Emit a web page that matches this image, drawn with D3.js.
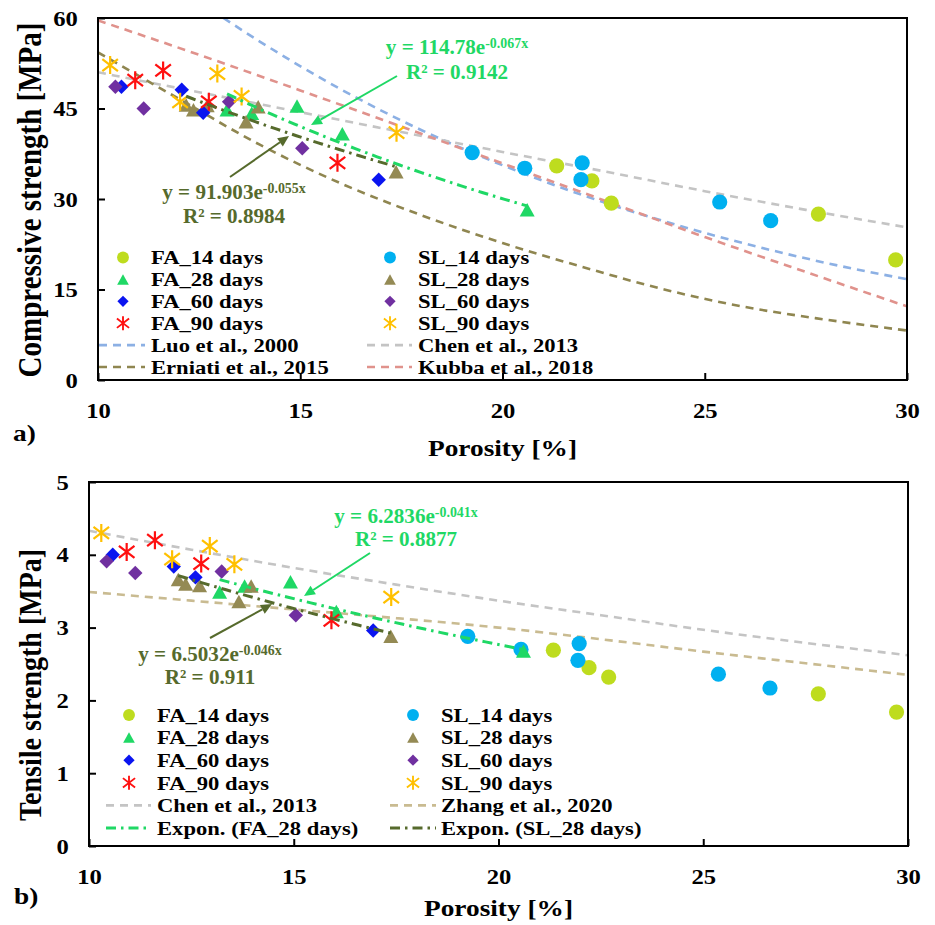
<!DOCTYPE html>
<html>
<head>
<meta charset="utf-8">
<script src="https://cdn.jsdelivr.net/npm/d3@7"></script>
<style>
  body { margin: 0; background: #fff; }
  svg { display: block; }
  text { font-family: "Liberation Serif", "Times New Roman", serif; font-weight: bold; }
</style>
</head>
<body>
<svg id="chart" width="935" height="925"></svg>
<script>
// ---------- axis ticks ----------
const porosityTicks = [10, 15, 20, 25, 30];
const compressiveTicks = [0, 15, 30, 45, 60];
const tensileTicks = [0, 1, 2, 3, 4, 5];

// ---------- measured points (porosity %, compressive MPa, tensile MPa) ----------
const fa14Porosity = [21.34, 22.21, 22.69, 27.81, 29.72];
const fa14Compressive = [35.5, 33.0, 29.3, 27.5, 19.9];
const fa14Tensile = [2.69, 2.45, 2.32, 2.09, 1.84];

const sl14Porosity = [19.25, 20.55, 21.97, 21.94, 25.37, 26.63];
const sl14Compressive = [37.7, 35.1, 36.0, 33.2, 29.5, 26.4];
const sl14Tensile = [2.88, 2.70, 2.78, 2.55, 2.36, 2.17];

const fa28Porosity = [13.19, 13.80, 14.92, 16.04, 20.61];
const fa28Compressive = [44.8, 44.2, 45.4, 40.8, 28.2];
const fa28Tensile = [3.49, 3.57, 3.63, 3.22, 2.68];

const sl28Porosity = [12.18, 12.36, 12.70, 13.66, 13.96, 17.37];
const sl28Compressive = [45.6, 44.8, 45.5, 42.8, 45.3, 34.5];
const sl28Tensile = [3.66, 3.60, 3.58, 3.36, 3.57, 2.88];

const fa60Porosity = [10.58, 12.07, 12.60, 16.94];
const fa60Compressive = [48.6, 48.1, 44.3, 33.2];
const fa60Tensile = [4.00, 3.84, 3.69, 2.96];

const sl60Porosity = [10.43, 11.13, 13.24, 15.05];
const sl60Compressive = [48.6, 45.0, 46.1, 38.4];
const sl60Tensile = [3.91, 3.75, 3.77, 3.17];

const fa90Porosity = [10.92, 11.61, 12.74, 15.92];
const fa90Compressive = [49.7, 51.3, 46.1, 36.0];
const fa90Tensile = [4.04, 4.20, 3.88, 3.10];

const sl90Porosity = [10.30, 12.03, 12.95, 13.55, 17.38];
const sl90Compressive = [52.2, 46.1, 50.8, 47.0, 41.0];
const sl90Tensile = [4.30, 3.94, 4.12, 3.87, 3.42];

// ---------- literature models ----------
const luoPorosity = [13.1, 14, 16, 18, 20, 22, 24, 26, 28, 30];
const luoCompressive = [60.0, 56.1, 48.2, 41.4, 35.6, 30.6, 26.3, 22.6, 19.4, 16.7];

const chenPorosity = [10, 12.5, 15, 17.5, 20, 22.5, 25, 27.5, 30];
const chenCompressive = [51.0, 47.7, 44.4, 41.1, 37.8, 34.6, 31.3, 28.2, 25.3];
const chenTensile = [4.33, 4.07, 3.82, 3.59, 3.37, 3.17, 2.97, 2.79, 2.62];

const erniatiPorosity = [10, 12, 14, 16, 18, 20, 22, 24, 26, 28, 30];
const erniatiCompressive = [54.3, 46.6, 39.0, 32.6, 27.3, 22.7, 18.7, 15.0, 12.1, 10.0, 8.2];

const kubbaPorosity = [10, 12.5, 15, 17.5, 20, 22.5, 25, 27.5, 30];
const kubbaCompressive = [59.6, 53.9, 48.0, 42.0, 35.9, 29.8, 23.7, 17.9, 12.2];

const zhangPorosity = [10, 12.5, 15, 17.5, 20, 22.5, 25, 27.5, 30];
const zhangTensile = [3.49, 3.37, 3.25, 3.13, 3.00, 2.84, 2.67, 2.51, 2.35];

// ---------- exponential trendlines: [coefficient, exponent, R²] ----------
const fitCompFA28 = [114.78, 0.067, 0.9142];
const fitCompSL28 = [91.903, 0.055, 0.8984];
const fitTensFA28 = [6.2836, 0.041, 0.8877];
const fitTensSL28 = [6.5032, 0.046, 0.911];

// ---------- legend labels ----------
const legendTopLeft = ["FA_14 days", "FA_28 days", "FA_60 days", "FA_90 days", "Luo et al., 2000", "Erniati et al., 2015"];
const legendTopRight = ["SL_14 days", "SL_28 days", "SL_60 days", "SL_90 days", "Chen et al., 2013", "Kubba et al., 2018"];
const legendBotLeft = ["FA_14 days", "FA_28 days", "FA_60 days", "FA_90 days", "Chen et al., 2013", "Expon. (FA_28 days)"];
const legendBotRight = ["SL_14 days", "SL_28 days", "SL_60 days", "SL_90 days", "Zhang et al., 2020", "Expon. (SL_28 days)"];

// ---------- styles ----------
const C = {
  fa14: "#bedc1e", sl14: "#00b0f0", fa28: "#1fd865", sl28: "#948a54",
  fa60: "#0a14f0", sl60: "#7030a0", fa90: "#ff1010", sl90: "#ffc000",
  luo: "#8cb0e4", chen: "#c4c4c4", erniati: "#8f8650", kubba: "#e0928c",
  zhang: "#c9bb91", fitFA: "#1fd865", fitSL: "#566a2c"
};
const DASH = "8,6";
const DASHDOT = "10,5,2.5,5";

const svg = d3.select("#chart");

function stretchedText(parent, x, y, opt) {
  const g = parent.append("g")
    .attr("transform", `translate(${x},${y}) scale(${opt.sx || 1},${opt.sy || 1})`);
  return g.append("text")
    .attr("text-anchor", opt.anchor || "start")
    .attr("font-size", opt.size)
    .attr("fill", opt.fill || "#000");
}

function drawSymbol(g, cx, cy, shape, color, s) {
  if (shape === "circle") {
    g.append("circle").attr("cx", cx).attr("cy", cy).attr("r", 7.6 * s).attr("fill", color);
  } else if (shape === "triangle") {
    const w = 15 * s, h = 13.5 * s;
    g.append("path")
      .attr("d", `M${cx},${cy - h / 2}L${cx + w / 2},${cy + h / 2}L${cx - w / 2},${cy + h / 2}Z`)
      .attr("fill", color);
  } else if (shape === "diamond") {
    const r = 7.2 * s;
    g.append("path")
      .attr("d", `M${cx},${cy - r}L${cx + r},${cy}L${cx},${cy + r}L${cx - r},${cy}Z`)
      .attr("fill", color);
  } else {
    const a = 9 * s, dx = 7.8 * s, dy = 6 * s;
    g.append("path")
      .attr("d", `M${cx},${cy - a}L${cx},${cy + a}M${cx - dx},${cy - dy}L${cx + dx},${cy + dy}M${cx - dx},${cy + dy}L${cx + dx},${cy - dy}`)
      .attr("stroke", color).attr("stroke-width", 2.2 * Math.max(s, 0.85)).attr("fill", "none");
  }
}

function legendItems(labels, styles) {
  return labels.map((label, i) => Object.assign({ label }, styles[i]));
}

function drawPanel(cfg) {
  const { x, y, yTicks, id } = cfg;
  const g = svg.append("g");
  const [x0, x1] = x.range();
  const [y0, y1] = y.range();

  g.append("clipPath").attr("id", id).append("rect")
    .attr("x", x0).attr("y", y1).attr("width", x1 - x0).attr("height", y0 - y1);

  // axes with inward ticks
  const gx = g.append("g").attr("transform", `translate(0,${y0})`)
    .call(d3.axisBottom(x).tickValues(porosityTicks).tickSizeInner(-7).tickSizeOuter(0)
      .tickPadding(22).tickFormat(d3.format("d")));
  const gy = g.append("g").attr("transform", `translate(${x0},0)`)
    .call(d3.axisLeft(y).tickValues(yTicks).tickSizeInner(-7).tickSizeOuter(0)
      .tickPadding(18).tickFormat(d3.format("d")));
  [gx, gy].forEach(a => {
    a.select(".domain").remove();
    a.selectAll(".tick line").attr("stroke", "#000").attr("stroke-width", 2);
    a.selectAll(".tick text").attr("font-size", 22).attr("fill", "#000")
      .attr("transform", "scale(1.12,1)");
  });

  const plot = g.append("g").attr("clip-path", `url(#${id})`);
  const lineGen = d3.line().x(d => x(d[0])).y(d => y(d[1])).curve(d3.curveMonotoneX);

  // literature curves
  cfg.refs.forEach(r => {
    plot.append("path").datum(d3.zip(r.p, r.v)).attr("d", lineGen)
      .attr("fill", "none").attr("stroke", r.color).attr("stroke-width", 2.6)
      .attr("stroke-dasharray", DASH);
  });

  // measured points
  cfg.series.forEach(s => {
    s.p.forEach((p, i) => drawSymbol(plot, x(p), y(s.v[i]), s.shape, s.color, 1));
  });

  // trendlines from the fitted equations
  cfg.fits.forEach(f => {
    const lo = d3.min(f.p), hi = d3.max(f.p);
    const pts = d3.range(0, 41).map(i => {
      const p = lo + (hi - lo) * i / 40;
      return [p, f.fit[0] * Math.exp(-f.fit[1] * p)];
    });
    plot.append("path").datum(pts)
      .attr("d", d3.line().x(d => x(d[0])).y(d => y(d[1])))
      .attr("fill", "none").attr("stroke", f.color).attr("stroke-width", 3)
      .attr("stroke-dasharray", DASHDOT);
  });

  // frame
  g.append("rect").attr("x", x0).attr("y", y1).attr("width", x1 - x0).attr("height", y0 - y1)
    .attr("fill", "none").attr("stroke", "#000").attr("stroke-width", 2);

  // legend
  const lg = cfg.legend;
  lg.cols.forEach(col => {
    col.items.forEach((it, i) => {
      const cy = lg.y0 + i * lg.dy;
      if (it.shape) {
        drawSymbol(g, col.mx, cy, it.shape, it.color, 0.78);
      } else {
        g.append("line").attr("x1", col.l0).attr("x2", col.l1).attr("y1", cy).attr("y2", cy)
          .attr("stroke", it.color).attr("stroke-width", it.dash === DASH ? 2.6 : 3)
          .attr("stroke-dasharray", it.dash);
      }
      stretchedText(g, col.tx, cy + 6.8, { size: 19.5, sx: 1.16 }).text(it.label);
    });
  });

  // fit annotations
  cfg.notes.forEach(n => {
    const t1 = stretchedText(g, n.cx, n.y1, { size: 22, sx: 0.96, anchor: "middle", fill: n.color });
    t1.append("tspan").text(`y = ${n.fit[0]}e`);
    t1.append("tspan").attr("font-size", 14.5).attr("dy", -6.5).text(`-${n.fit[1]}x`);
    stretchedText(g, n.cx, n.y2, { size: 22, sx: 0.96, anchor: "middle", fill: n.color })
      .text(`R² = ${n.fit[2]}`);
    const [ax0, ay0, ax1, ay1] = n.arrow;
    const ang = Math.atan2(ay1 - ay0, ax1 - ax0);
    const L = 11, Wd = 5;
    const bx = ax1 - L * Math.cos(ang), by = ay1 - L * Math.sin(ang);
    g.append("line").attr("x1", ax0).attr("y1", ay0).attr("x2", bx).attr("y2", by)
      .attr("stroke", n.color).attr("stroke-width", 2);
    g.append("path")
      .attr("d", `M${ax1},${ay1}L${bx - Wd * Math.sin(ang)},${by + Wd * Math.cos(ang)}L${bx + Wd * Math.sin(ang)},${by - Wd * Math.cos(ang)}Z`)
      .attr("fill", n.color);
  });

  // titles
  stretchedText(g, (x0 + x1) / 2, cfg.xTitleY, { size: 24, sx: 1.14, anchor: "middle" }).text("Porosity [%]");
  g.append("g").attr("transform", `translate(${cfg.yTitleX},${cfg.yTitleY}) rotate(-90) scale(1,1.16)`)
    .append("text").attr("text-anchor", "middle").attr("dy", "0.33em")
    .attr("font-size", cfg.yTitleSize).text(cfg.yTitle);
  stretchedText(g, cfg.tag[0], cfg.tag[1], { size: 24, sx: 1.14 }).text(cfg.tag[2]);
}

const shapes = { d14: "circle", d28: "triangle", d60: "diamond", d90: "asterisk" };

// ---------- a) compressive strength ----------
const topX = d3.scaleLinear().domain([10, 30]).range([98, 907]);
const topY = d3.scaleLinear().domain([0, 60]).range([380, 18]);

drawPanel({
  id: "clipTop", x: topX, y: topY, yTicks: compressiveTicks,
  refs: [
    { p: luoPorosity, v: luoCompressive, color: C.luo },
    { p: chenPorosity, v: chenCompressive, color: C.chen },
    { p: erniatiPorosity, v: erniatiCompressive, color: C.erniati },
    { p: kubbaPorosity, v: kubbaCompressive, color: C.kubba }
  ],
  series: [
    { p: fa14Porosity, v: fa14Compressive, shape: shapes.d14, color: C.fa14 },
    { p: sl14Porosity, v: sl14Compressive, shape: shapes.d14, color: C.sl14 },
    { p: fa28Porosity, v: fa28Compressive, shape: shapes.d28, color: C.fa28 },
    { p: sl28Porosity, v: sl28Compressive, shape: shapes.d28, color: C.sl28 },
    { p: fa60Porosity, v: fa60Compressive, shape: shapes.d60, color: C.fa60 },
    { p: sl60Porosity, v: sl60Compressive, shape: shapes.d60, color: C.sl60 },
    { p: fa90Porosity, v: fa90Compressive, shape: shapes.d90, color: C.fa90 },
    { p: sl90Porosity, v: sl90Compressive, shape: shapes.d90, color: C.sl90 }
  ],
  fits: [
    { p: fa28Porosity, fit: fitCompFA28, color: C.fitFA },
    { p: sl28Porosity, fit: fitCompSL28, color: C.fitSL }
  ],
  legend: {
    y0: 257.5, dy: 21.9,
    cols: [
      { mx: 123, tx: 151, l0: 99, l1: 145, items: legendItems(legendTopLeft, [
        { shape: shapes.d14, color: C.fa14 }, { shape: shapes.d28, color: C.fa28 },
        { shape: shapes.d60, color: C.fa60 }, { shape: shapes.d90, color: C.fa90 },
        { color: C.luo, dash: DASH }, { color: C.erniati, dash: DASH }]) },
      { mx: 390, tx: 418, l0: 367, l1: 412, items: legendItems(legendTopRight, [
        { shape: shapes.d14, color: C.sl14 }, { shape: shapes.d28, color: C.sl28 },
        { shape: shapes.d60, color: C.sl60 }, { shape: shapes.d90, color: C.sl90 },
        { color: C.chen, dash: DASH }, { color: C.kubba, dash: DASH }]) }
    ]
  },
  notes: [
    { fit: fitCompFA28, color: C.fitFA, cx: 457, y1: 54, y2: 79, arrow: [397, 76, 311, 125] },
    { fit: fitCompSL28, color: C.fitSL, cx: 234, y1: 199, y2: 222.5, arrow: [230, 177, 289, 136] }
  ],
  xTitleY: 456, yTitleX: 30, yTitleY: 200, yTitleSize: 29,
  yTitle: "Compressive strength  [MPa]",
  tag: [13, 441, "a)"]
});

// ---------- b) tensile strength ----------
const botX = d3.scaleLinear().domain([10, 30]).range([89, 908]);
const botY = d3.scaleLinear().domain([0, 5]).range([846, 482]);

drawPanel({
  id: "clipBot", x: botX, y: botY, yTicks: tensileTicks,
  refs: [
    { p: chenPorosity, v: chenTensile, color: C.chen },
    { p: zhangPorosity, v: zhangTensile, color: C.zhang }
  ],
  series: [
    { p: fa14Porosity, v: fa14Tensile, shape: shapes.d14, color: C.fa14 },
    { p: sl14Porosity, v: sl14Tensile, shape: shapes.d14, color: C.sl14 },
    { p: fa28Porosity, v: fa28Tensile, shape: shapes.d28, color: C.fa28 },
    { p: sl28Porosity, v: sl28Tensile, shape: shapes.d28, color: C.sl28 },
    { p: fa60Porosity, v: fa60Tensile, shape: shapes.d60, color: C.fa60 },
    { p: sl60Porosity, v: sl60Tensile, shape: shapes.d60, color: C.sl60 },
    { p: fa90Porosity, v: fa90Tensile, shape: shapes.d90, color: C.fa90 },
    { p: sl90Porosity, v: sl90Tensile, shape: shapes.d90, color: C.sl90 }
  ],
  fits: [
    { p: fa28Porosity, fit: fitTensFA28, color: C.fitFA },
    { p: sl28Porosity, fit: fitTensSL28, color: C.fitSL }
  ],
  legend: {
    y0: 715, dy: 22.6,
    cols: [
      { mx: 129, tx: 157, l0: 106, l1: 151, items: legendItems(legendBotLeft, [
        { shape: shapes.d14, color: C.fa14 }, { shape: shapes.d28, color: C.fa28 },
        { shape: shapes.d60, color: C.fa60 }, { shape: shapes.d90, color: C.fa90 },
        { color: C.chen, dash: DASH }, { color: C.fitFA, dash: DASHDOT }]) },
      { mx: 413, tx: 441, l0: 390, l1: 436, items: legendItems(legendBotRight, [
        { shape: shapes.d14, color: C.sl14 }, { shape: shapes.d28, color: C.sl28 },
        { shape: shapes.d60, color: C.sl60 }, { shape: shapes.d90, color: C.sl90 },
        { color: C.zhang, dash: DASH }, { color: C.fitSL, dash: DASHDOT }]) }
    ]
  },
  notes: [
    { fit: fitTensFA28, color: C.fitFA, cx: 406, y1: 523, y2: 546, arrow: [370, 553, 304, 596] },
    { fit: fitTensSL28, color: C.fitSL, cx: 210, y1: 661, y2: 684, arrow: [210, 638, 272, 604] }
  ],
  xTitleY: 916, yTitleX: 30, yTitleY: 685, yTitleSize: 28,
  yTitle: "Tensile strength [MPa]",
  tag: [14, 904, "b)"]
});
</script>
</body>
</html>
